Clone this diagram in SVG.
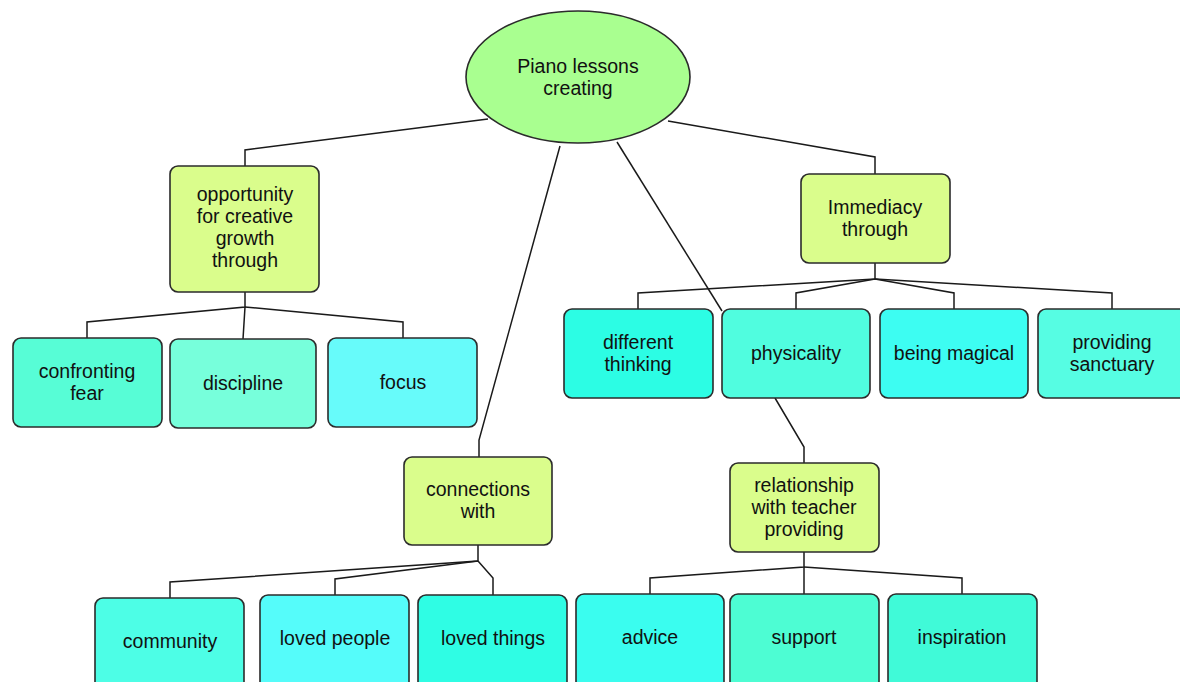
<svg xmlns="http://www.w3.org/2000/svg" width="1180" height="682" viewBox="0 0 1180 682">
<style>
.n{stroke:#2b2b2b;stroke-width:1.6}
.c{fill:none;stroke:#1a1a1a;stroke-width:1.5}
text{font-family:"Liberation Sans",Arial,sans-serif;font-size:19.5px;fill:#111;text-anchor:middle}
.y{fill:#dafd8c}
</style>
<rect width="1180" height="682" fill="#ffffff"/>
<g id="connectors">
<polyline class="c" points="488,119 245,150 245,166"/>
<polyline class="c" points="668,121 875,157 875,174"/>
<polyline class="c" points="560,146 479,440 479,457"/>
<polyline class="c" points="617,142 722,311"/>
<polyline class="c" points="245,292 245,307 87,322 87,338"/>
<polyline class="c" points="245,307 243,339"/>
<polyline class="c" points="245,307 403,322 403,338"/>
<polyline class="c" points="875,263 875,279 638,293 638,309"/>
<polyline class="c" points="875,279 796,293 796,309"/>
<polyline class="c" points="875,279 954,293 954,309"/>
<polyline class="c" points="875,279 1112,293 1112,309"/>
<polyline class="c" points="478,545 478,561 170,582 170,598"/>
<polyline class="c" points="478,561 335,579 335,595"/>
<polyline class="c" points="478,561 493,578 493,595"/>
<polyline class="c" points="775,398 804,447 804,463"/>
<polyline class="c" points="804,552 804,567 650,578 650,594"/>
<polyline class="c" points="804,567 804,594"/>
<polyline class="c" points="804,567 962,578 962,594"/>
</g>
<g id="root">
<ellipse class="n" cx="578" cy="77" rx="112" ry="66" fill="#a9ff90"/>
<text x="578" y="73">Piano lessons</text>
<text x="578" y="95">creating</text>
</g>
<g id="opportunity">
<rect class="n y" x="170" y="166" width="149" height="126" rx="8"/>
<text x="245" y="201">opportunity</text>
<text x="245" y="223">for creative</text>
<text x="245" y="245">growth</text>
<text x="245" y="267">through</text>
</g>
<g id="confronting">
<rect class="n" x="13" y="338" width="149" height="89" rx="8" fill="#57fdd6"/>
<text x="87" y="377.5">confronting</text>
<text x="87" y="399.5">fear</text>
</g>
<g id="discipline">
<rect class="n" x="170" y="339" width="146" height="89" rx="8" fill="#77ffdb"/>
<text x="243" y="390">discipline</text>
</g>
<g id="focus">
<rect class="n" x="328" y="338" width="149" height="89" rx="8" fill="#67fbfa"/>
<text x="403" y="389">focus</text>
</g>
<g id="immediacy">
<rect class="n y" x="801" y="174" width="149" height="89" rx="8"/>
<text x="875" y="213.5">Immediacy</text>
<text x="875" y="235.5">through</text>
</g>
<g id="different">
<rect class="n" x="564" y="309" width="149" height="89" rx="8" fill="#2cfde4"/>
<text x="638" y="348.5">different</text>
<text x="638" y="370.5">thinking</text>
</g>
<g id="physicality">
<rect class="n" x="722" y="309" width="148" height="89" rx="8" fill="#50fddf"/>
<text x="796" y="360">physicality</text>
</g>
<g id="magical">
<rect class="n" x="880" y="309" width="148" height="89" rx="8" fill="#3dfdf2"/>
<text x="954" y="360">being magical</text>
</g>
<g id="sanctuary">
<rect class="n" x="1038" y="309" width="150" height="89" rx="8" fill="#56fde3"/>
<text x="1112" y="348.5">providing</text>
<text x="1112" y="370.5">sanctuary</text>
</g>
<g id="connections">
<rect class="n y" x="404" y="457" width="148" height="88" rx="8"/>
<text x="478" y="496">connections</text>
<text x="478" y="518">with</text>
</g>
<g id="relationship">
<rect class="n y" x="730" y="463" width="149" height="89" rx="8"/>
<text x="804" y="491.5">relationship</text>
<text x="804" y="513.5">with teacher</text>
<text x="804" y="535.5">providing</text>
</g>
<g id="community">
<rect class="n" x="95" y="598" width="149" height="92" rx="8" fill="#4dfee6"/>
<text x="170" y="648">community</text>
</g>
<g id="lovedpeople">
<rect class="n" x="260" y="595" width="149" height="95" rx="8" fill="#55fcfa"/>
<text x="335" y="645">loved people</text>
</g>
<g id="lovedthings">
<rect class="n" x="418" y="595" width="149" height="95" rx="8" fill="#2ffde4"/>
<text x="493" y="645">loved things</text>
</g>
<g id="advice">
<rect class="n" x="576" y="594" width="148" height="96" rx="8" fill="#3afdef"/>
<text x="650" y="644">advice</text>
</g>
<g id="support">
<rect class="n" x="730" y="594" width="149" height="96" rx="8" fill="#4dfdd3"/>
<text x="804" y="644">support</text>
</g>
<g id="inspiration">
<rect class="n" x="888" y="594" width="149" height="96" rx="8" fill="#40fad8"/>
<text x="962" y="644">inspiration</text>
</g>
</svg>
